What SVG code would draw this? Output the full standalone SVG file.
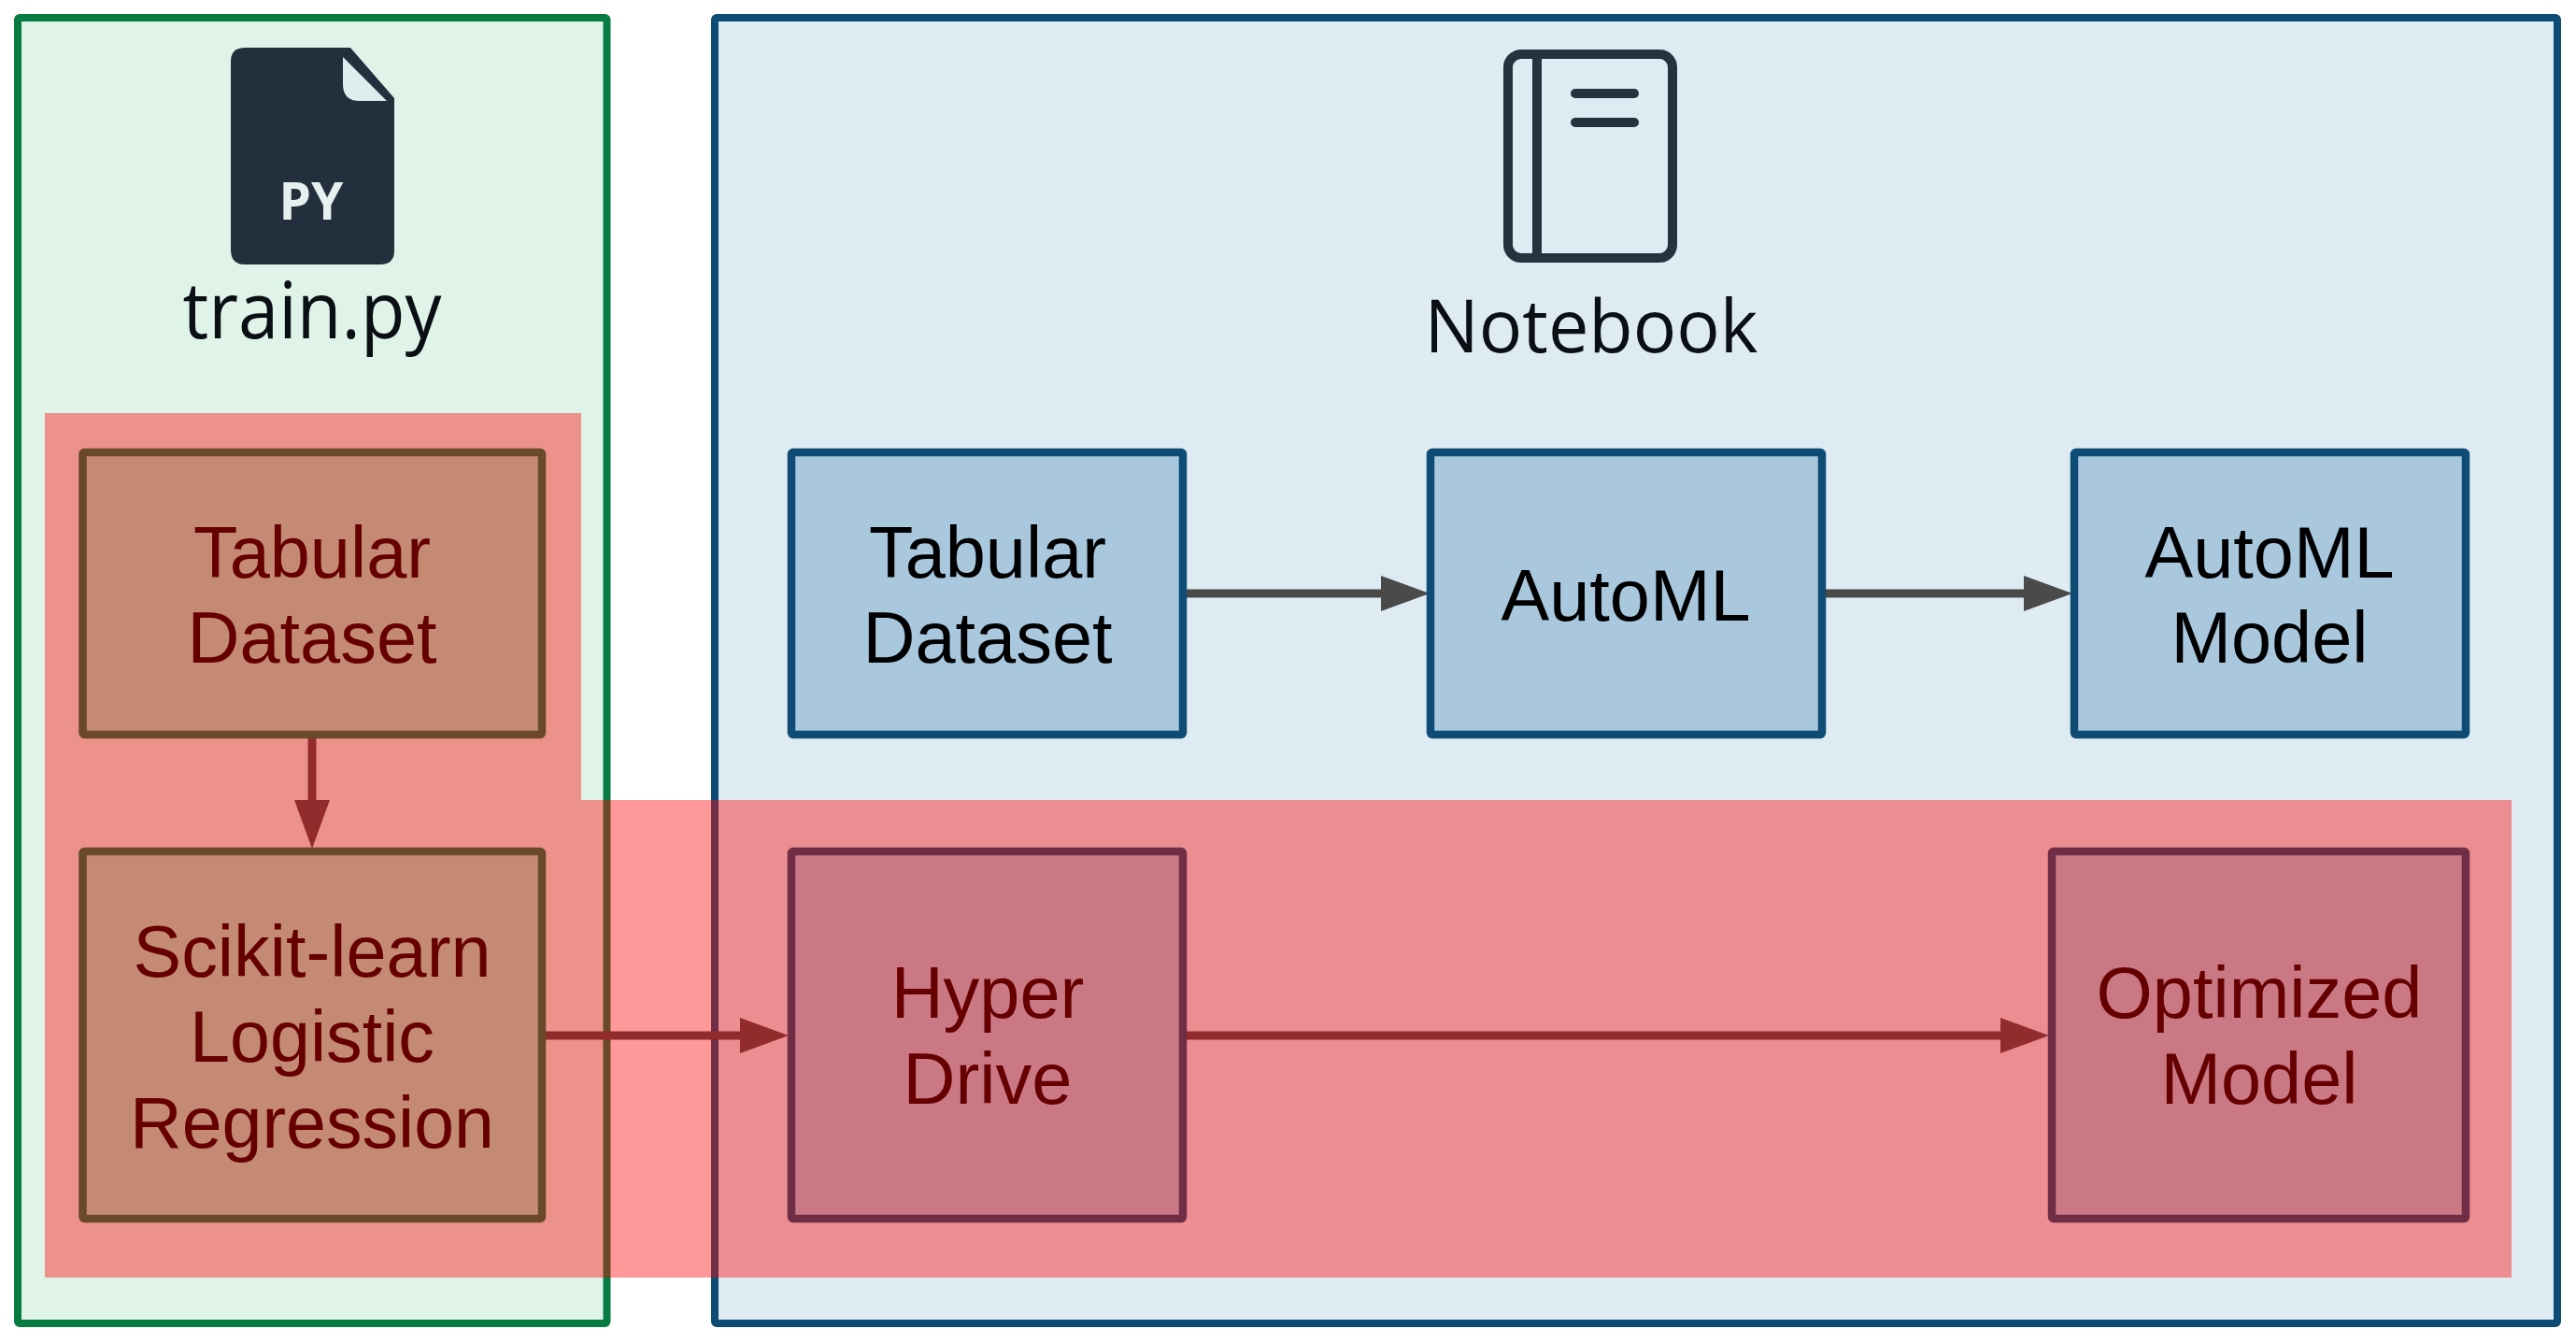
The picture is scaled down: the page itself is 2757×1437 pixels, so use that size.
<svg xmlns="http://www.w3.org/2000/svg" width="2757" height="1437" viewBox="0 0 2757 1437">
  <style>
    .panel { stroke-width: 8; stroke-linejoin: round; }
    .box { stroke-width: 8.500; stroke-linejoin: round; }
    .green { fill: #dff3e8; stroke: #087b43; }
    .blue { fill: #deebf2; stroke: #0f4c75; }
    .gbox { fill: #9de6c1; stroke: #087b43; }
    .bbox { fill: #a9c8de; stroke: #0f4c75; }
    .lbl { font-family: "Liberation Sans", Arial, sans-serif; font-size: 77.500px; fill: #000; text-anchor: middle; }
    .cap { font-family: "Open Sans", "Noto Sans", sans-serif; fill: #0a0f14; text-anchor: middle; }
    .edge { stroke: #4a4a4a; stroke-width: 9; fill: none; marker-end: url(#arrow); }
    .ink { fill: none; stroke: #26323d; stroke-width: 10; stroke-linecap: round; }
  </style>
  <defs>
    <marker id="arrow" markerUnits="userSpaceOnUse" markerWidth="52" markerHeight="40" viewBox="0 0 52 40" refX="0" refY="20" orient="auto">
      <path d="M0 1 L52 20 L0 39 Z" fill="#4a4a4a"/>
    </marker>
  </defs>
  <rect width="2757" height="1437" fill="#ffffff"/>

  <g id="panel-train">
    <rect class="panel green" x="19" y="19" width="630.500" height="1397" rx="2"/>
    <path d="M262 51 H375 L422 105 V268 Q422 283 407 283 H262 Q247 283 247 268 V66 Q247 51 262 51 Z" fill="#232f3c"/>
    <path d="M367 61 V90 Q367 108 385 108 H414 Z" fill="#dfedee"/>
    <text x="333" y="235" font-family="'Open Sans','Noto Sans',sans-serif" font-size="55" font-weight="700" fill="#e6f0ee" text-anchor="middle">PY</text>
    <text class="cap" x="334" y="362" font-size="84" textLength="277" lengthAdjust="spacingAndGlyphs">train.py</text>
  </g>

  <g id="panel-notebook">
    <rect class="panel blue" x="765" y="19" width="1972" height="1397" rx="2"/>
    <rect class="ink" x="1614" y="58" width="176" height="218" rx="14"/>
    <path class="ink" d="M1645 58 V276" stroke-linecap="butt"/>
    <path class="ink" d="M1686 100 H1749 M1686 131 H1749"/>
    <text class="cap" x="1703" y="377" font-size="78" textLength="357" lengthAdjust="spacingAndGlyphs">Notebook</text>
  </g>

  <g id="connectors">
    <path class="edge" d="M334 786 V856"/>
    <path class="edge" d="M584 1108 H792"/>
    <path class="edge" d="M1266 1108 H2141"/>
    <path class="edge" d="M1266 635 H1478"/>
    <path class="edge" d="M1954 635 H2166"/>
  </g>

  <g id="node-tabular-left">
    <rect class="box gbox" x="88.500" y="484" width="491.500" height="302" rx="2"/>
    <text class="lbl" x="334" y="618">Tabular</text>
    <text class="lbl" x="334" y="709">Dataset</text>
  </g>
  <g id="node-scikit">
    <rect class="box gbox" x="88.500" y="911" width="491.500" height="393" rx="2"/>
    <text class="lbl" x="334" y="1045" textLength="383" lengthAdjust="spacingAndGlyphs">Scikit-learn</text>
    <text class="lbl" x="334" y="1136" textLength="262" lengthAdjust="spacingAndGlyphs">Logistic</text>
    <text class="lbl" x="334" y="1228" textLength="390" lengthAdjust="spacingAndGlyphs">Regression</text>
  </g>
  <g id="node-tabular-right">
    <rect class="box bbox" x="847" y="484" width="419" height="302" rx="2"/>
    <text class="lbl" x="1057" y="618">Tabular</text>
    <text class="lbl" x="1057" y="709">Dataset</text>
  </g>
  <g id="node-automl">
    <rect class="box bbox" x="1531" y="484" width="419" height="302" rx="2"/>
    <text class="lbl" x="1740" y="664">AutoML</text>
  </g>
  <g id="node-automl-model">
    <rect class="box bbox" x="2220" y="484" width="419" height="302" rx="2"/>
    <text class="lbl" x="2429" y="618">AutoML</text>
    <text class="lbl" x="2429" y="709">Model</text>
  </g>
  <g id="node-hyperdrive">
    <rect class="box bbox" x="847" y="911" width="419" height="393" rx="2"/>
    <text class="lbl" x="1057" y="1089">Hyper</text>
    <text class="lbl" x="1057" y="1181">Drive</text>
  </g>
  <g id="node-optimized">
    <rect class="box bbox" x="2196" y="911" width="443" height="393" rx="2"/>
    <text class="lbl" x="2418" y="1089">Optimized</text>
    <text class="lbl" x="2418" y="1181">Model</text>
  </g>

  <path id="highlight" d="M48 442 H622 V856 H2688 V1367 H48 Z" fill="#ff0000" fill-opacity="0.4"/>
</svg>
